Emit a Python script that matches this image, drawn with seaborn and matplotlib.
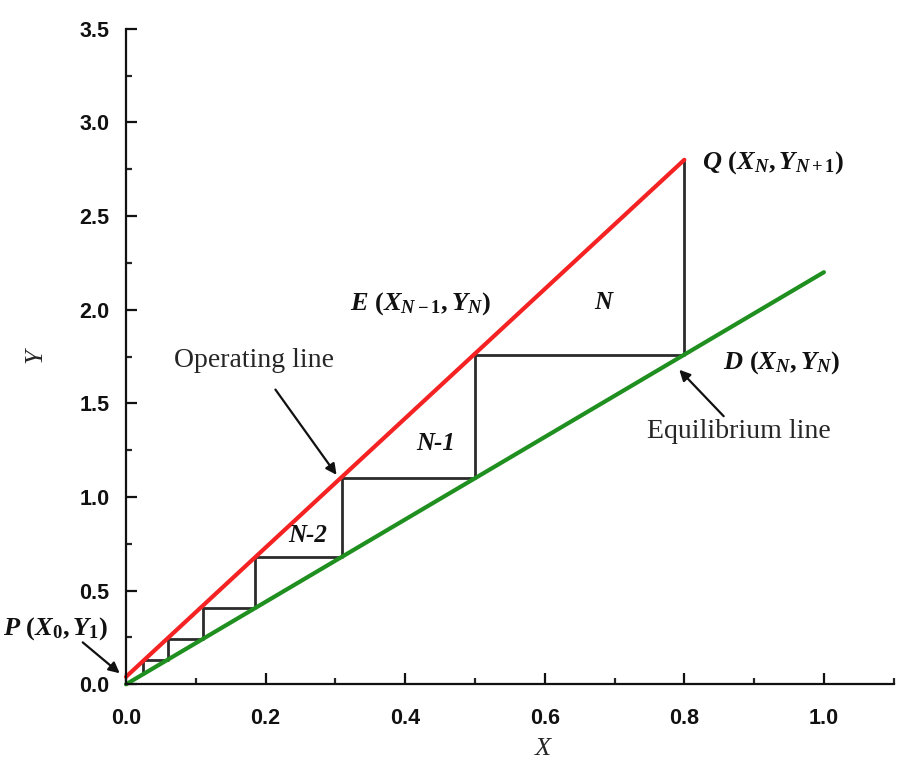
import numpy as np
import pandas as pd
import matplotlib
matplotlib.use('Agg')
import matplotlib.pyplot as plt
from matplotlib.ticker import MultipleLocator, FormatStrFormatter
import seaborn as sns

# values
op_x = [0.0, 0.8]          # operating line
op_y = [0.04, 2.8]
eq_x = [0.0, 1.0]          # equilibrium line
eq_y = [0.0, 2.2]
step_x = [0.025, 0.06, 0.11, 0.185, 0.31, 0.5, 0.8]
step_levels = [0.055, 0.13, 0.24, 0.41, 0.68, 1.1, 1.76, 2.8]

sns.set_theme(style='ticks')
plt.rcParams['font.family'] = ['Liberation Sans', 'DejaVu Sans']
plt.rcParams['mathtext.fontset'] = 'custom'
plt.rcParams['mathtext.it'] = 'Liberation Serif:italic:bold'
plt.rcParams['mathtext.rm'] = 'Liberation Serif:bold'
plt.rcParams['mathtext.bf'] = 'Liberation Serif:bold'

# staircase as one polyline
sx, sy = [], []
for i, x in enumerate(step_x):
    sx += [x, x]
    sy += [step_levels[i], step_levels[i + 1]]
stairs = pd.DataFrame({'x': sx, 'y': sy})
lines = pd.DataFrame({'x': op_x + eq_x, 'y': op_y + eq_y,
                      'line': ['Operating'] * 2 + ['Equilibrium'] * 2})

fig = plt.figure(figsize=(9, 7.75), dpi=100)
ax = fig.add_axes([0.14, 0.117, 0.853, 0.846])

sns.lineplot(data=stairs, x='x', y='y', sort=False, color='#2b2b2b', lw=2, ax=ax,
             estimator=None)
sns.lineplot(data=lines, x='x', y='y', hue='line', sort=False, estimator=None,
             palette={'Operating': '#f42222', 'Equilibrium': '#1f8f1f'}, lw=3,
             legend=False, ax=ax)
for l in ax.lines:
    l.set_clip_on(False)

ax.set_xlim(0, 1.1)
ax.set_ylim(0, 3.5)
ax.xaxis.set_major_locator(MultipleLocator(0.2))
ax.xaxis.set_minor_locator(MultipleLocator(0.1))
ax.yaxis.set_major_locator(MultipleLocator(0.5))
ax.yaxis.set_minor_locator(MultipleLocator(0.25))
ax.xaxis.set_major_formatter(FormatStrFormatter('%.1f'))
ax.yaxis.set_major_formatter(FormatStrFormatter('%.1f'))
ax.tick_params(which='major', direction='in', length=8, width=1.6, labelsize=15.5,
               colors='#111111')
ax.tick_params(axis='x', which='major', pad=17)
ax.tick_params(axis='y', which='major', pad=12)
ax.tick_params(which='minor', direction='in', length=4, width=1.6)
for lab in ax.get_xticklabels() + ax.get_yticklabels():
    lab.set_fontweight('bold')
sns.despine(ax=ax)
for s in ['left', 'bottom']:
    ax.spines[s].set_linewidth(1.6)
    ax.spines[s].set_color('#111111')

ax.set_xlabel('X', family='Liberation Serif', style='italic', fontsize=19)
ax.set_ylabel('Y', family='Liberation Serif', style='italic', fontsize=19)
ax.xaxis.set_label_coords(0.543, -0.082)
ax.yaxis.set_label_coords(-0.104, 0.502)

txt = dict(fontsize=19, color='#111111')
ax.text(0.826, 2.785, r'$Q\ (X_N, Y_{N+1})$', va='center', ha='left', **txt)
ax.text(0.321, 2.03, r'$E\ (X_{N-1}, Y_N)$', va='center', ha='left', **txt)
ax.text(0.855, 1.716, r'$D\ (X_N, Y_N)$', va='center', ha='left', **txt)
ax.text(-0.176, 0.30, r'$P\ (X_0, Y_1)$', va='center', ha='left', **txt)
stage = dict(family='Liberation Serif', style='italic', weight='bold', fontsize=18,
             color='#111111', ha='center', va='center')
ax.text(0.684, 2.036, 'N', **stage)
ax.text(0.443, 1.288, 'N-1', **stage)
ax.text(0.261, 0.796, 'N-2', **stage)

arrow = dict(arrowstyle='-|>', color='#111111', lw=1.6, mutation_scale=16)
ax.annotate('Operating line', xy=(0.304, 1.106), xytext=(0.184, 1.73),
            ha='center', va='center', family='Liberation Serif', fontsize=20,
            arrowprops=dict(arrow, shrinkA=12))
ax.annotate('Equilibrium line', xy=(0.79, 1.69), xytext=(0.878, 1.347),
            ha='center', va='center', family='Liberation Serif', fontsize=20,
            arrowprops=dict(arrow, shrinkA=0))
ax.annotate('', xy=(-0.009, 0.059), xytext=(-0.062, 0.224), annotation_clip=False,
            arrowprops=dict(arrow, shrinkA=0, shrinkB=0))

fig.savefig('out.png', dpi=100)
